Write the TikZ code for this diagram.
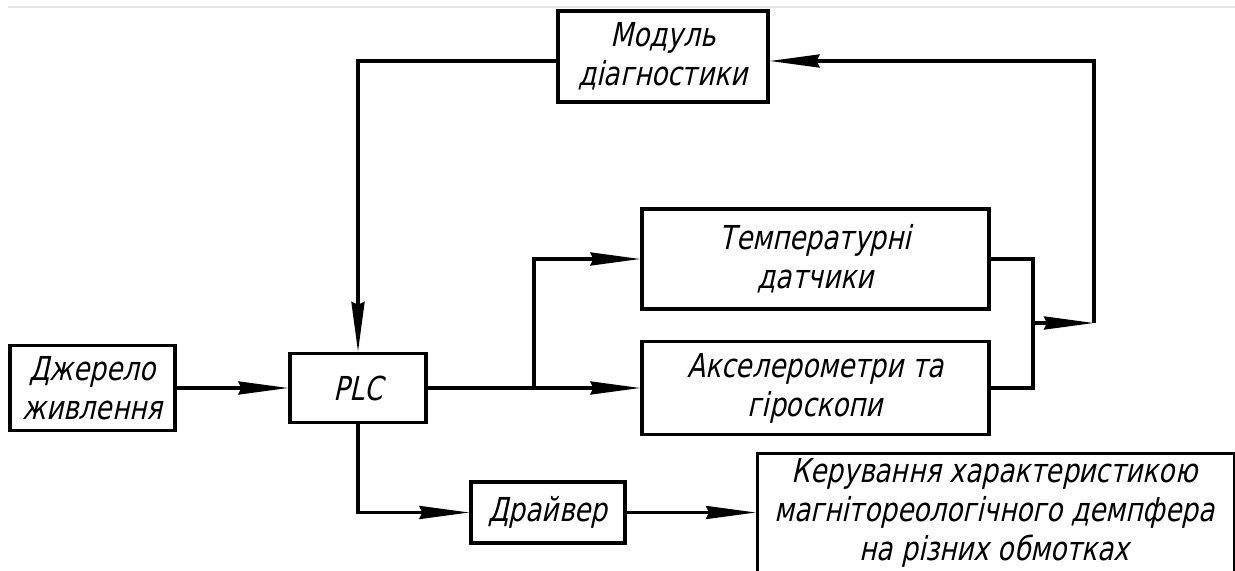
\documentclass[tikz,border=0pt]{standalone}
\usepackage{fontspec}
\setmainfont{DejaVu Sans}[FakeStretch=0.8, FakeSlant=0.22]
\usetikzlibrary{arrows.meta}
\begin{document}
\begin{tikzpicture}[x=0.5pt,y=-0.5pt, line width=1.6pt,
  lbl/.style={font=\fontsize{16.5}{19.5}\selectfont, align=center, inner sep=0pt},
  box/.style={draw, line width=1.6pt, lbl},
  arr/.style={-{Stealth[length=25pt,width=6.5pt,inset=1.5pt]}}]
\useasboundingbox (0,0) rectangle (1235,571);
\clip (0,0) rectangle (1235,571);
\draw[black!10, line width=1pt] (8,7) -- (1235,7);
% blocks
\node[box, minimum width=105pt, minimum height=45.5pt] (mod) at (663,56.5) {Модуль\\діагностики};
\node[box, minimum width=173.5pt, minimum height=50pt] (temp) at (815.5,259) {Температурні\\датчики};
\node[box, minimum width=173.5pt, minimum height=46.5pt] (acc) at (815.5,388) {Акселерометри та\\гіроскопи};
\node[box, minimum width=82.5pt, minimum height=42.5pt] (dj) at (92.5,388) {Джерело\\живлення};
\node[box, minimum width=68pt, minimum height=34.5pt] (plc) at (358,388) {PLC};
\node[box, minimum width=77pt, minimum height=30.5pt] (drv) at (548,512.5) {Драйвер};
\node[box, minimum width=238.5pt, minimum height=80pt, anchor=north west] (ker) at (756,452) {};
\node[lbl] (kert) at (994.5,513) {Керування характеристикою\\магнітореологічного демпфера\\на різних обмотках};
% helper points
\coordinate (br) at (534,388);
\coordinate (j) at (1033,323);
\coordinate (fb) at (1094,323);
\coordinate (fbtop) at (1094,61);
% connectors
\draw[arr] (dj.east) -- (plc.west);
\draw[arr] (plc.east) -- (acc.west);
\draw[arr] (br) |- (temp.west);
\draw[arr] (mod.west |- fbtop) -| (plc.north);
\draw (temp.east) -| (j);
\draw (acc.east) -| (j);
\draw[arr] (j) -- (fb);
\draw[arr] (fb) -- (fbtop) -- (mod.east |- fbtop);
\draw[arr] (plc.south) |- (drv.west);
\draw[arr] (drv.east) -- (drv.east -| ker.west);
\end{tikzpicture}
\end{document}
